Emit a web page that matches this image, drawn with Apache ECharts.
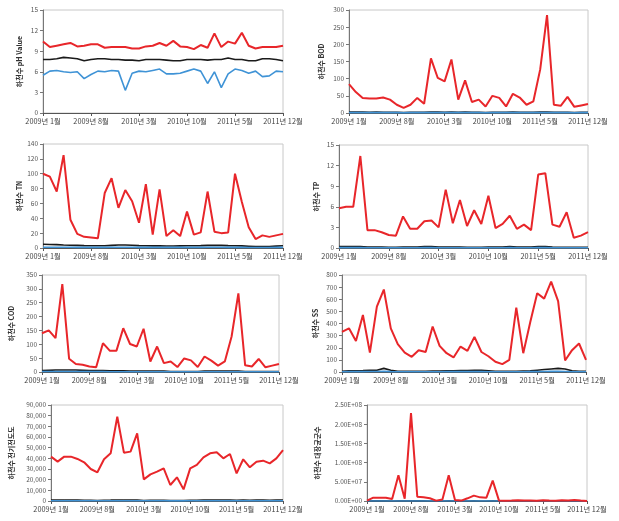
<!DOCTYPE html>
<html><head><meta charset="utf-8">
<script src="https://cdn.jsdelivr.net/npm/echarts@6/dist/echarts.min.js"></script>
<style>html,body{margin:0;padding:0;background:#fff}#c{width:619px;height:521px}</style>
</head><body><div id="c"></div>
<script>
const months = ['2009년 1월','2009년 2월','2009년 3월','2009년 4월','2009년 5월','2009년 6월','2009년 7월','2009년 8월','2009년 9월','2009년 10월','2009년 11월','2009년 12월',
'2010년 1월','2010년 2월','2010년 3월','2010년 4월','2010년 5월','2010년 6월','2010년 7월','2010년 8월','2010년 9월','2010년 10월','2010년 11월','2010년 12월',
'2011년 1월','2011년 2월','2011년 3월','2011년 4월','2011년 5월','2011년 6월','2011년 7월','2011년 8월','2011년 9월','2011년 10월','2011년 11월','2011년 12월'];

// pH
const phMax = [10.4,9.6,9.8,10.0,10.2,9.7,9.8,10.0,10.0,9.5,9.6,9.6,9.6,9.4,9.4,9.7,9.8,10.2,9.8,10.5,9.7,9.6,9.3,9.9,9.5,11.6,9.6,10.4,10.1,11.7,9.8,9.4,9.6,9.6,9.6,9.8];
const phMean = [7.8,7.8,7.9,8.1,8.0,7.9,7.6,7.8,7.9,7.9,7.8,7.8,7.7,7.7,7.6,7.8,7.8,7.8,7.7,7.6,7.6,7.8,7.8,7.8,7.7,7.8,7.8,8.0,7.8,7.8,7.6,7.6,7.9,7.9,7.8,7.6];
const phMin = [5.5,6.1,6.2,6.0,5.9,6.0,5.0,5.6,6.1,6.0,6.2,6.1,3.3,5.8,6.1,6.0,6.2,6.4,5.7,5.7,5.8,6.1,6.4,6.1,4.3,6.0,3.7,5.7,6.4,6.2,5.8,6.1,5.3,5.4,6.1,6.0];
// BOD
const bodMax = [84,61,44,42,42,45,39,24,15,24,44,27,159,102,92,156,39,95,32,39,19,50,44,19,56,45,24,34,127,285,24,21,47,18,22,26];
const bodMean = [3,3,3,2,3,2,2,2,1,2,2,2,3,3,2,3,2,3,2,2,1,2,2,2,3,2,2,2,3,3,2,2,2,1,2,2];
const bodMin = [1,1,1,1,1,1,1,1,0.5,1,1,1,1,1,1,1,1,1,1,1,0.5,1,1,1,1,1,1,1,1,1,1,1,1,0.5,1,1];
// TN
const tnMax = [100,96,76,125,38,19,15,14,13,74,94,54,78,63,34,86,18,79,16,24,16,49,18,21,76,22,20,21,100,62,28,12,17,15,17,19];
const tnMean = [5,4.8,4.5,4,3.8,3.5,3.2,3,3,3,3.5,4,4,3.8,3.2,3,2.8,2.8,2.6,2.6,2.8,3,3,3.2,3.5,3.5,3.5,3.2,3,2.8,2.4,2,1.8,2,2.5,3];
const tnMin = [1,1,1,1,1,0.8,0.8,0.8,0.8,0.8,1,1,1,1,0.8,0.8,0.8,0.8,0.8,0.8,0.8,0.8,0.8,0.8,1,1,1,0.8,0.8,0.8,0.6,0.6,0.6,0.6,0.8,0.8];
// TP
const tpMax = [5.8,6.0,6.0,13.4,2.6,2.6,2.3,1.9,1.8,4.6,2.8,2.8,3.9,4.0,3.0,8.5,3.6,7.0,3.2,5.5,3.5,7.6,2.9,3.5,4.7,2.8,3.4,2.6,10.7,10.9,3.4,3.1,5.2,1.5,1.8,2.3];
const tpMean = [0.2,0.2,0.2,0.2,0.15,0.15,0.15,0.12,0.12,0.15,0.15,0.15,0.2,0.2,0.15,0.15,0.15,0.15,0.12,0.12,0.12,0.15,0.15,0.15,0.2,0.15,0.15,0.15,0.2,0.2,0.15,0.12,0.12,0.1,0.1,0.12];
const tpMin = [0.05,0.05,0.05,0.05,0.04,0.04,0.04,0.03,0.03,0.04,0.04,0.04,0.05,0.05,0.04,0.04,0.04,0.04,0.03,0.03,0.03,0.04,0.04,0.04,0.05,0.04,0.04,0.04,0.05,0.05,0.04,0.03,0.03,0.03,0.03,0.03];
// COD
const codMax = [140,150,122,317,48,29,26,20,17,104,77,77,158,101,92,156,38,92,32,38,18,49,42,18,56,41,23,38,128,284,24,20,47,17,23,29];
const codMean = [5,6,7,7,7,7,6,5,5,5,4,4,4,3,3,3,3,3,3,2,2,2,2,2,3,3,3,3,3,3,2,2,2,2,2,2];
const codMin = [2,2,2,2,2,2,2,2,2,2,1,1,1,1,1,1,1,1,1,1,1,1,1,1,1,1,1,1,1,1,1,1,1,1,1,1];
// SS
const ssMax = [330,360,255,470,160,540,680,360,230,160,125,180,165,375,215,155,120,210,175,290,165,130,85,65,100,530,155,410,650,605,745,585,95,180,235,100];
const ssMean = [5,10,10,12,15,15,30,15,5,5,5,5,5,8,8,10,10,12,12,15,15,10,5,5,5,5,8,10,15,20,25,30,25,10,5,5];
const ssMin = [2,3,3,3,4,4,5,3,2,2,2,2,2,2,2,3,3,3,3,3,3,2,2,2,2,2,2,3,3,4,5,5,4,2,2,2];
// 전기전도도
const ecMax = [41600,36900,41600,41600,39400,36300,30000,26900,39100,44700,79000,45300,46300,63400,20300,25000,27500,30600,15000,22200,10900,30600,33800,40900,44700,45600,40000,44100,25900,39100,31600,36900,37800,35300,40000,47800];
const ecMean = [900,1000,900,800,800,700,600,500,700,800,1000,900,800,900,500,600,600,700,400,500,400,600,700,800,900,900,800,900,600,800,700,800,800,700,800,900];
const ecMin = [300,300,300,300,300,250,200,200,250,300,300,300,300,300,200,200,200,250,150,200,150,200,250,300,300,300,300,300,200,300,250,300,300,250,300,300];
// 대장균군수
const colMax = [1.0e6,8.6e6,8.6e6,8.6e6,5.0e6,6.7e7,6.0e6,2.29e8,1.1e7,9.5e6,7.0e6,1.0e6,4.0e6,6.7e7,2.6e6,1.0e6,7.0e6,1.4e7,9.5e6,8.6e6,5.3e7,1.0e6,0.5e6,1.0e6,2.0e6,1.0e6,1.5e6,0.5e6,2.0e6,1.0e6,0.5e6,2.0e6,1.0e6,2.5e6,1.0e6,0.3e6];
const colMean = [1e5,2e5,2e5,2e5,1e5,5e5,2e5,8e5,2e5,2e5,1e5,5e4,1e5,5e5,5e4,5e4,1e5,2e5,1e5,1e5,4e5,5e4,2e4,3e4,5e4,3e4,4e4,2e4,5e4,3e4,2e4,5e4,3e4,6e4,3e4,1e4];
const colMin = [1e4,2e4,2e4,2e4,1e4,3e4,2e4,5e4,2e4,2e4,1e4,5e3,1e4,3e4,5e3,5e3,1e4,2e4,1e4,1e4,3e4,5e3,2e3,3e3,5e3,3e3,4e3,2e3,5e3,3e3,2e3,5e3,3e3,6e3,3e3,1e3];

const yNames = ['하천수 pH Value','하천수 BOD','하천수 TN','하천수 TP','하천수 COD','하천수 SS','하천수 전기전도도','하천수 대장균군수'];
const yMaxes = [15,300,140,15,350,800,90000,2.5e8];
const yIntervals = [3,50,20,3,50,100,10000,5e7];
const panelData = [
  [phMax,phMean,phMin],[bodMax,bodMean,bodMin],[tnMax,tnMean,tnMin],[tpMax,tpMean,tpMin],
  [codMax,codMean,codMin],[ssMax,ssMean,ssMin],[ecMax,ecMean,ecMin],[colMax,colMean,colMin]
];

// layout: [left, top, width(to last point), height, nameGap]
const layout = [
  [43,10,240,103,20],[349,10,239,103,24],
  [43,144,240,104,20],[339,145,249,103,19],
  [42,275,237,97,27],[342,275,244,97,23],
  [51,405,232,96,36],[367,405,220,96,46]
];

function sciFmt(v){
  if(v===0) return '0.00E+00';
  const e = Math.floor(Math.log10(v));
  const m = v/Math.pow(10,e);
  return m.toFixed(2)+'E+'+String(e).padStart(2,'0');
}
const fmts = [
  v=>v, v=>v, v=>v, v=>v, v=>v, v=>v,
  v=>v.toLocaleString('en-US'), sciFmt
];

const font = "'Noto Sans CJK KR', 'Noto Sans', sans-serif";
const colors = ['#e8262a','#1a1a1a','#3f93d6'];
const grids=[], xAxes=[], yAxes=[], series=[];
layout.forEach((L,i)=>{
  grids.push({left:L[0],top:L[1],width:L[2],height:L[3],show:true,borderColor:'#c8c8c8',borderWidth:1,backgroundColor:'transparent'});
  xAxes.push({type:'category',gridIndex:i,data:months,boundaryGap:false,
    axisLine:{lineStyle:{color:'#555',width:1}},
    axisTick:{show:true,interval:6,length:3,lineStyle:{color:'#555'}},
    axisLabel:{interval:6,fontSize:7.3,color:'#444',fontFamily:font,margin:5},
    splitLine:{show:false}});
  yAxes.push({type:'value',gridIndex:i,min:0,max:yMaxes[i],interval:yIntervals[i],
    name:yNames[i],nameLocation:'middle',nameGap:L[4],nameRotate:90,
    nameTextStyle:{fontSize:7,fontWeight:'bold',color:'#333',fontFamily:font},
    axisLine:{show:true,lineStyle:{color:'#777',width:1}},
    axisTick:{show:true,length:3,lineStyle:{color:'#777'}},
    axisLabel:{fontSize:6.5,color:'#555',fontFamily:font,margin:5,formatter:fmts[i]},
    splitLine:{show:false}});
  panelData[i].forEach((d,k)=>{
    series.push({type:'line',xAxisIndex:i,yAxisIndex:i,data:d,symbol:'none',
      z: k===0?5:4,
      lineStyle:{color:colors[k],width:k===0?2:1.6},itemStyle:{color:colors[k]},animation:false});
  });
});

const chart = echarts.init(document.getElementById('c'),null,{renderer:'canvas'});
chart.setOption({backgroundColor:'#fff',animation:false,grid:grids,xAxis:xAxes,yAxis:yAxes,series:series});
</script></body></html>
